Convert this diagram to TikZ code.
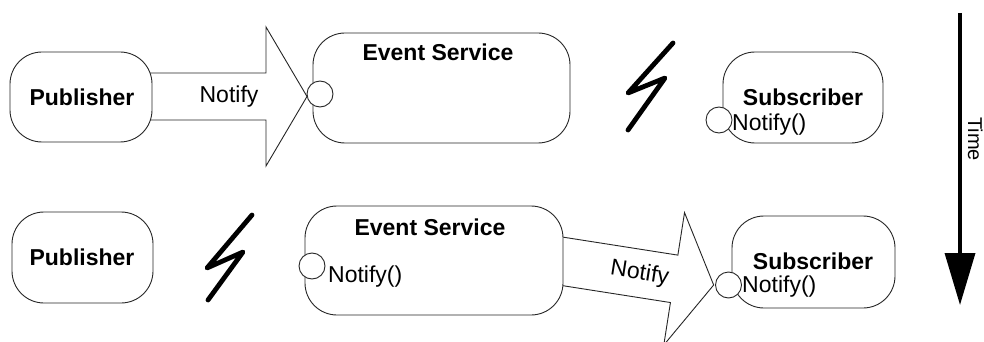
\documentclass[tikz,border=0pt]{standalone}
\usepackage{fontspec}
\setmainfont{Liberation Sans}
\usetikzlibrary{arrows.meta}
\begin{document}
\begin{tikzpicture}[x=1pt,y=-1pt,
  box/.style={draw=black!85, line width=0.9pt, fill=white, rounded corners=32pt, inner sep=0pt},
  port/.style={draw=black!85, line width=0.9pt, fill=white, circle, minimum size=26pt, inner sep=0pt},
  blockarrow/.style={draw=black!85, line width=0.9pt, fill=white, line join=miter},
  title/.style={font=\fontsize{23}{26}\selectfont\bfseries, inner sep=0pt},
  op/.style={font=\fontsize{23}{26}\selectfont, inner sep=0pt},
  bolt/.style={line width=4.8pt, line cap=round, line join=round},
  timeline/.style={line width=3.5pt, -{Triangle[width=30pt,length=52pt]}}]
\useasboundingbox (0,0) rectangle (984,342);
\clip (0,0) rectangle (984,342);

% ---- first phase: publisher notifies the event service ----
\draw[blockarrow] (148,73) -- (266,73) -- (266,27) -- (307,96.5) -- (266,166) -- (266,120) -- (148,120);
\node[box, minimum width=142pt, minimum height=90pt] (pubA) at (81,97) {};
\node[title] (pubAtxt) at (82,97) {Publisher};
\node[op] (notifyA) at (229,97) {Notify};

\node[box, minimum width=257pt, minimum height=110pt] (esA) at (441.5,88) {};
\node[title] (esAtxt) at (438,52) {Event Service};
\node[port] (esAport) at (320,94) {};

\draw[bolt] (673,43) -- (628,93) -- (665,78) -- (628,130);

\node[box, minimum width=160pt, minimum height=91pt] (subA) at (803,97.5) {};
\node[title] (subAtxt) at (803,97) {Subscriber};
\node[port] (subAport) at (719,120) {};
\node[op, anchor=west] (subAop) at (732,125) {Notify()};

% ---- second phase: event service notifies the subscriber ----
\node[box, minimum width=141pt, minimum height=91pt] (pubB) at (82.5,257.5) {};
\node[title] (pubBtxt) at (82,257) {Publisher};

\draw[bolt] (252,215) -- (207,268) -- (243,252) -- (208,300);

\begin{scope}[shift={(563.5,261.5)}, rotate=-8.9]
  \draw[blockarrow] (-6,-24) -- (112,-24) -- (112,-67) -- (152,0) -- (112,67) -- (112,24) -- (-6,24);
  \node[op, rotate=-8.9] (notifyB) at (77,0) {Notify};
\end{scope}

\node[box, minimum width=258pt, minimum height=109pt] (esB) at (434,260.5) {};
\node[title] (esBtxt) at (430,227) {Event Service};
\node[port] (esBport) at (312,266) {};
\node[op, anchor=west] (esBop) at (328,277) {Notify()};

\node[box, minimum width=163pt, minimum height=92pt] (subB) at (813.5,262) {};
\node[title] (subBtxt) at (813,261) {Subscriber};
\node[port] (subBport) at (728.5,285) {};
\node[op, anchor=west] (subBop) at (742,287) {Notify()};

% ---- time axis ----
\coordinate (tStart) at (960,13);
\coordinate (tEnd) at (960,305);
\draw[timeline] (tStart) -- (tEnd);
\node[font=\fontsize{20}{24}\selectfont, rotate=-90, anchor=base, inner sep=0pt] (timelbl) at (968,139) {Time};
\end{tikzpicture}
\end{document}
